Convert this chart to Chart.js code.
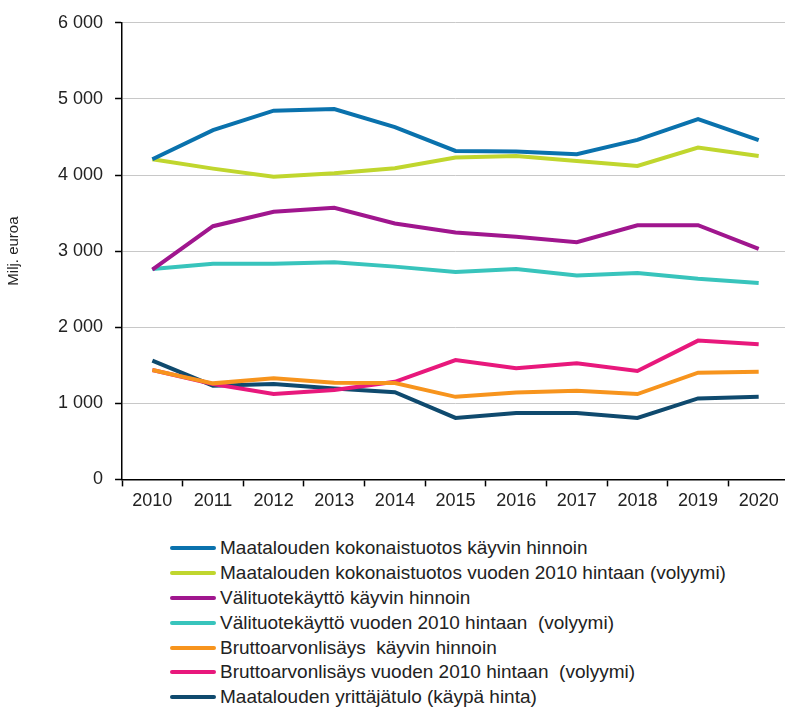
<!DOCTYPE html>
<html>
<head>
<meta charset="utf-8">
<script src="https://cdn.jsdelivr.net/npm/chart.js@4"></script>
<style>
  html, body { margin: 0; padding: 0; background: #fff; overflow: hidden; }
  #wrap { position: relative; width: 785px; height: 708px; overflow: hidden; }
  #box { position: absolute; left: 0; top: 0; width: 789px; height: 516px; }
  #legend { position: absolute; left: 170px; top: 536px; font: 19px "Liberation Sans", Arial, sans-serif; color: #222; }
  .item { height: 24.8px; display: flex; align-items: center; white-space: pre; }
  .swatch { width: 46px; height: 4px; margin-right: 4px; border-radius: 2px; }
</style>
</head>
<body>
<div id="wrap">
  <div id="box"><canvas id="myChart"></canvas></div>
  <div id="legend"></div>
</div>
<script>
const years = ['2010', '2011', '2012', '2013', '2014', '2015', '2016', '2017', '2018', '2019', '2020'];

const kokonaistuotosKayvin = [4207, 4590, 4845, 4866, 4630, 4316, 4310, 4273, 4461, 4734, 4457];
const kokonaistuotos2010 = [4207, 4084, 3978, 4022, 4088, 4229, 4250, 4184, 4118, 4361, 4250];
const valituoteKayvin = [2756, 3327, 3517, 3570, 3363, 3244, 3187, 3116, 3340, 3340, 3029];
const valituote2010 = [2765, 2835, 2835, 2853, 2796, 2726, 2765, 2681, 2712, 2637, 2581];
const bruttoKayvin = [1437, 1262, 1328, 1270, 1266, 1085, 1143, 1165, 1121, 1402, 1415];
const brutto2010 = [1437, 1253, 1121, 1174, 1283, 1569, 1460, 1526, 1424, 1824, 1776];
const yrittajatulo = [1560, 1231, 1253, 1196, 1145, 808, 874, 874, 808, 1064, 1085];

const seriesNames = [
    'Maatalouden kokonaistuotos käyvin hinnoin',
    'Maatalouden kokonaistuotos vuoden 2010 hintaan (volyymi)',
    'Välituotekäyttö käyvin hinnoin',
    'Välituotekäyttö vuoden 2010 hintaan  (volyymi)',
    'Bruttoarvonlisäys  käyvin hinnoin',
    'Bruttoarvonlisäys vuoden 2010 hintaan  (volyymi)',
    'Maatalouden yrittäjätulo (käypä hinta)'
];
const seriesValues = [kokonaistuotosKayvin, kokonaistuotos2010, valituoteKayvin, valituote2010, bruttoKayvin, brutto2010, yrittajatulo];
const seriesColors = ['#0a72ad', '#c0d62e', '#a0168e', '#38c4bc', '#f7941d', '#e8187c', '#0f4a6e'];

const yTicks = [0, 1000, 2000, 3000, 4000, 5000, 6000];

document.addEventListener('DOMContentLoaded', function () {
    const font = { family: '"Liberation Sans", Arial, sans-serif', size: 18 };
    const ctx = document.getElementById('myChart').getContext('2d');

    const datasets = seriesNames.map((name, i) => ({
        label: name,
        data: seriesValues[i],
        borderColor: seriesColors[i],
        backgroundColor: seriesColors[i],
        borderWidth: 4,
        pointRadius: 0,
        tension: 0,
        fill: false
    }));

    const myChart = new Chart(ctx, {
        type: 'line',
        data: { labels: years, datasets: datasets },
        options: {
            responsive: true,
            maintainAspectRatio: false,
            animation: false,
            layout: { padding: { top: 22, left: 5, right: 0, bottom: 0 } },
            plugins: {
                legend: { display: false },
                tooltip: { enabled: false }
            },
            scales: {
                x: {
                    offset: true,
                    grid: {
                        offset: true,
                        drawOnChartArea: false,
                        tickLength: 7,
                        tickColor: '#000',
                        tickWidth: 1.5
                    },
                    border: { color: '#000', width: 1.5 },
                    ticks: { color: '#222', font: font, padding: 4, maxRotation: 0 }
                },
                y: {
                    min: 0,
                    max: 6000,
                    afterBuildTicks: function (axis) {
                        axis.ticks = yTicks.map(v => ({ value: v }));
                    },
                    grid: {
                        color: ctx => ctx.tick && ctx.tick.value === 0 ? 'rgba(0,0,0,0)' : '#c8c8c8',
                        lineWidth: 1,
                        borderDash: ctx => ctx.tick && ctx.tick.value === 6000 ? [] : [2, 2],
                        tickBorderDash: [],
                        tickColor: '#000',
                        tickLength: 7,
                        tickWidth: 1.5
                    },
                    border: { color: '#000', width: 1.5 },
                    ticks: {
                        color: '#222',
                        font: font,
                        padding: 12,
                        callback: v => String(v).replace(/\B(?=(\d{3})+(?!\d))/g, ' ')
                    },
                    title: {
                        display: true,
                        text: 'Milj. euroa',
                        color: '#222',
                        font: { family: font.family, size: 15 },
                        padding: { top: 0, bottom: 23 }
                    }
                }
            }
        }
    });

    const legend = document.getElementById('legend');
    myChart.data.datasets.forEach(ds => {
        const row = document.createElement('div');
        row.className = 'item';
        const sw = document.createElement('span');
        sw.className = 'swatch';
        sw.style.background = ds.borderColor;
        const txt = document.createElement('span');
        txt.textContent = ds.label;
        row.appendChild(sw);
        row.appendChild(txt);
        legend.appendChild(row);
    });
});
</script>
</body>
</html>
